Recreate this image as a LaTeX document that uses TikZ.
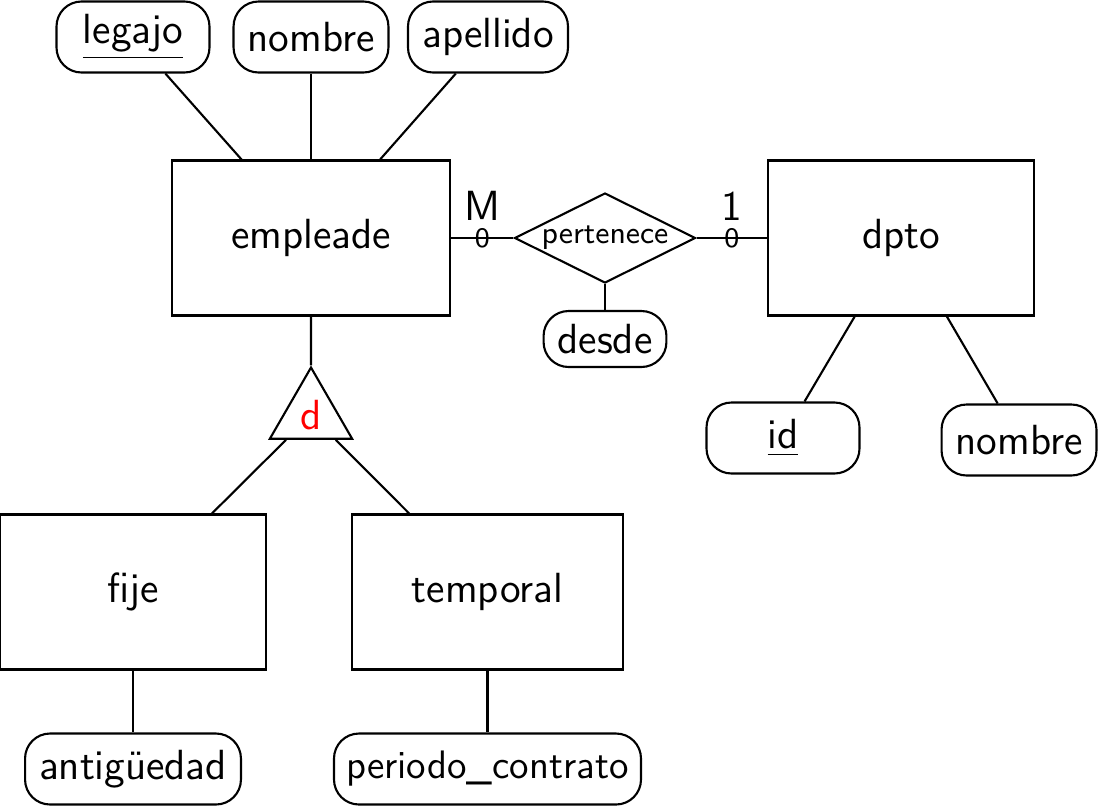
\documentclass[tikz,border=0pt]{standalone}
\usepackage{fontspec}
\usepackage{xcolor}
\usepackage{tikz}
\usetikzlibrary{shapes,positioning}

\begin{document}
\begin{tikzpicture}[node distance=2cm,on grid,line width=0.6pt,font=\sffamily\fontsize{12}{14}\selectfont]
	\tikzstyle{entidad}=[draw,rectangle,minimum width=2.66cm,minimum height=1.55cm]
	\tikzstyle{atributo}=[draw,rounded corners=0.25cm,minimum width=1.53cm,minimum height=0.71cm,inner xsep=0.14cm]
	\tikzstyle{relacion}=[draw,diamond,aspect=2,inner sep=0pt,minimum width=1.81cm,minimum height=0.9cm,font=\sffamily\fontsize{8.8}{10}\selectfont]
	\tikzstyle{isa}=[draw,regular polygon,regular polygon sides=3,inner sep=0pt,minimum size=0.95cm,text=red]
	\tikzstyle{card}=[inner sep=0pt,font=\sffamily\fontsize{8}{9}\selectfont]
	\tikzstyle{cardtop}=[inner sep=0pt,anchor=south,yshift=0.16cm]

	\useasboundingbox (0,0) rectangle (11,-8.08);

	% entidades y relacion
	\node[entidad,minimum width=2.78cm](empleade) at (3.11,-2.38){empleade};
	\node[relacion](pertenece)[right=2.94cm of empleade]{pertenece};
	\node[entidad](dpto)[right=5.90cm of empleade]{dpto};
	\node[atributo,minimum width=0pt,minimum height=0.56cm](desde)[below=1.01cm of pertenece]{desde};

	% atributos de empleade
	\node[atributo](nombre)[above=2.01cm of empleade]{nombre};
	\node[atributo](legajo)[left=1.78cm of nombre]{\underline{legajo}};
	\node[atributo,minimum width=1.6cm](apellido)[right=1.77cm of nombre]{apellido};

	% atributos de dpto
	\node[atributo](id)[below left=2.0cm and 1.18cm of dpto]{\underline{id}};
	\node[atributo](nombredpto)[below right=2.02cm and 1.18cm of dpto]{nombre};

	% especializacion
	\node[isa](d)[below=1.77cm of empleade]{d};
	\node[entidad](fije)[below left=1.77cm and 1.78cm of d]{fije};
	\node[entidad,minimum width=2.71cm](temporal)[below right=1.77cm and 1.765cm of d]{temporal};
	\node[atributo](antiguedad)[below=1.77cm of fije]{antigüedad};
	\node[atributo,minimum width=3.07cm,inner xsep=0pt,font=\sffamily\fontsize{11.3}{14}\selectfont](periodo)[below=1.77cm of temporal]{periodo\_contrato};

	\path (legajo) edge (empleade);
	\path (nombre) edge (empleade);
	\path (apellido) edge (empleade);
	\path (empleade) edge node[card]{0} node[cardtop]{M} (pertenece);
	\path (pertenece) edge node[card]{0} node[cardtop]{1} (dpto);
	\path (pertenece) edge (desde);
	\path (dpto) edge (id);
	\path (dpto) edge (nombredpto);
	\path (empleade) edge (d);
	\path (d) edge (fije);
	\path (d) edge (temporal);
	\path (fije) edge (antiguedad);
	\path (temporal) edge (periodo);
\end{tikzpicture}
\end{document}
